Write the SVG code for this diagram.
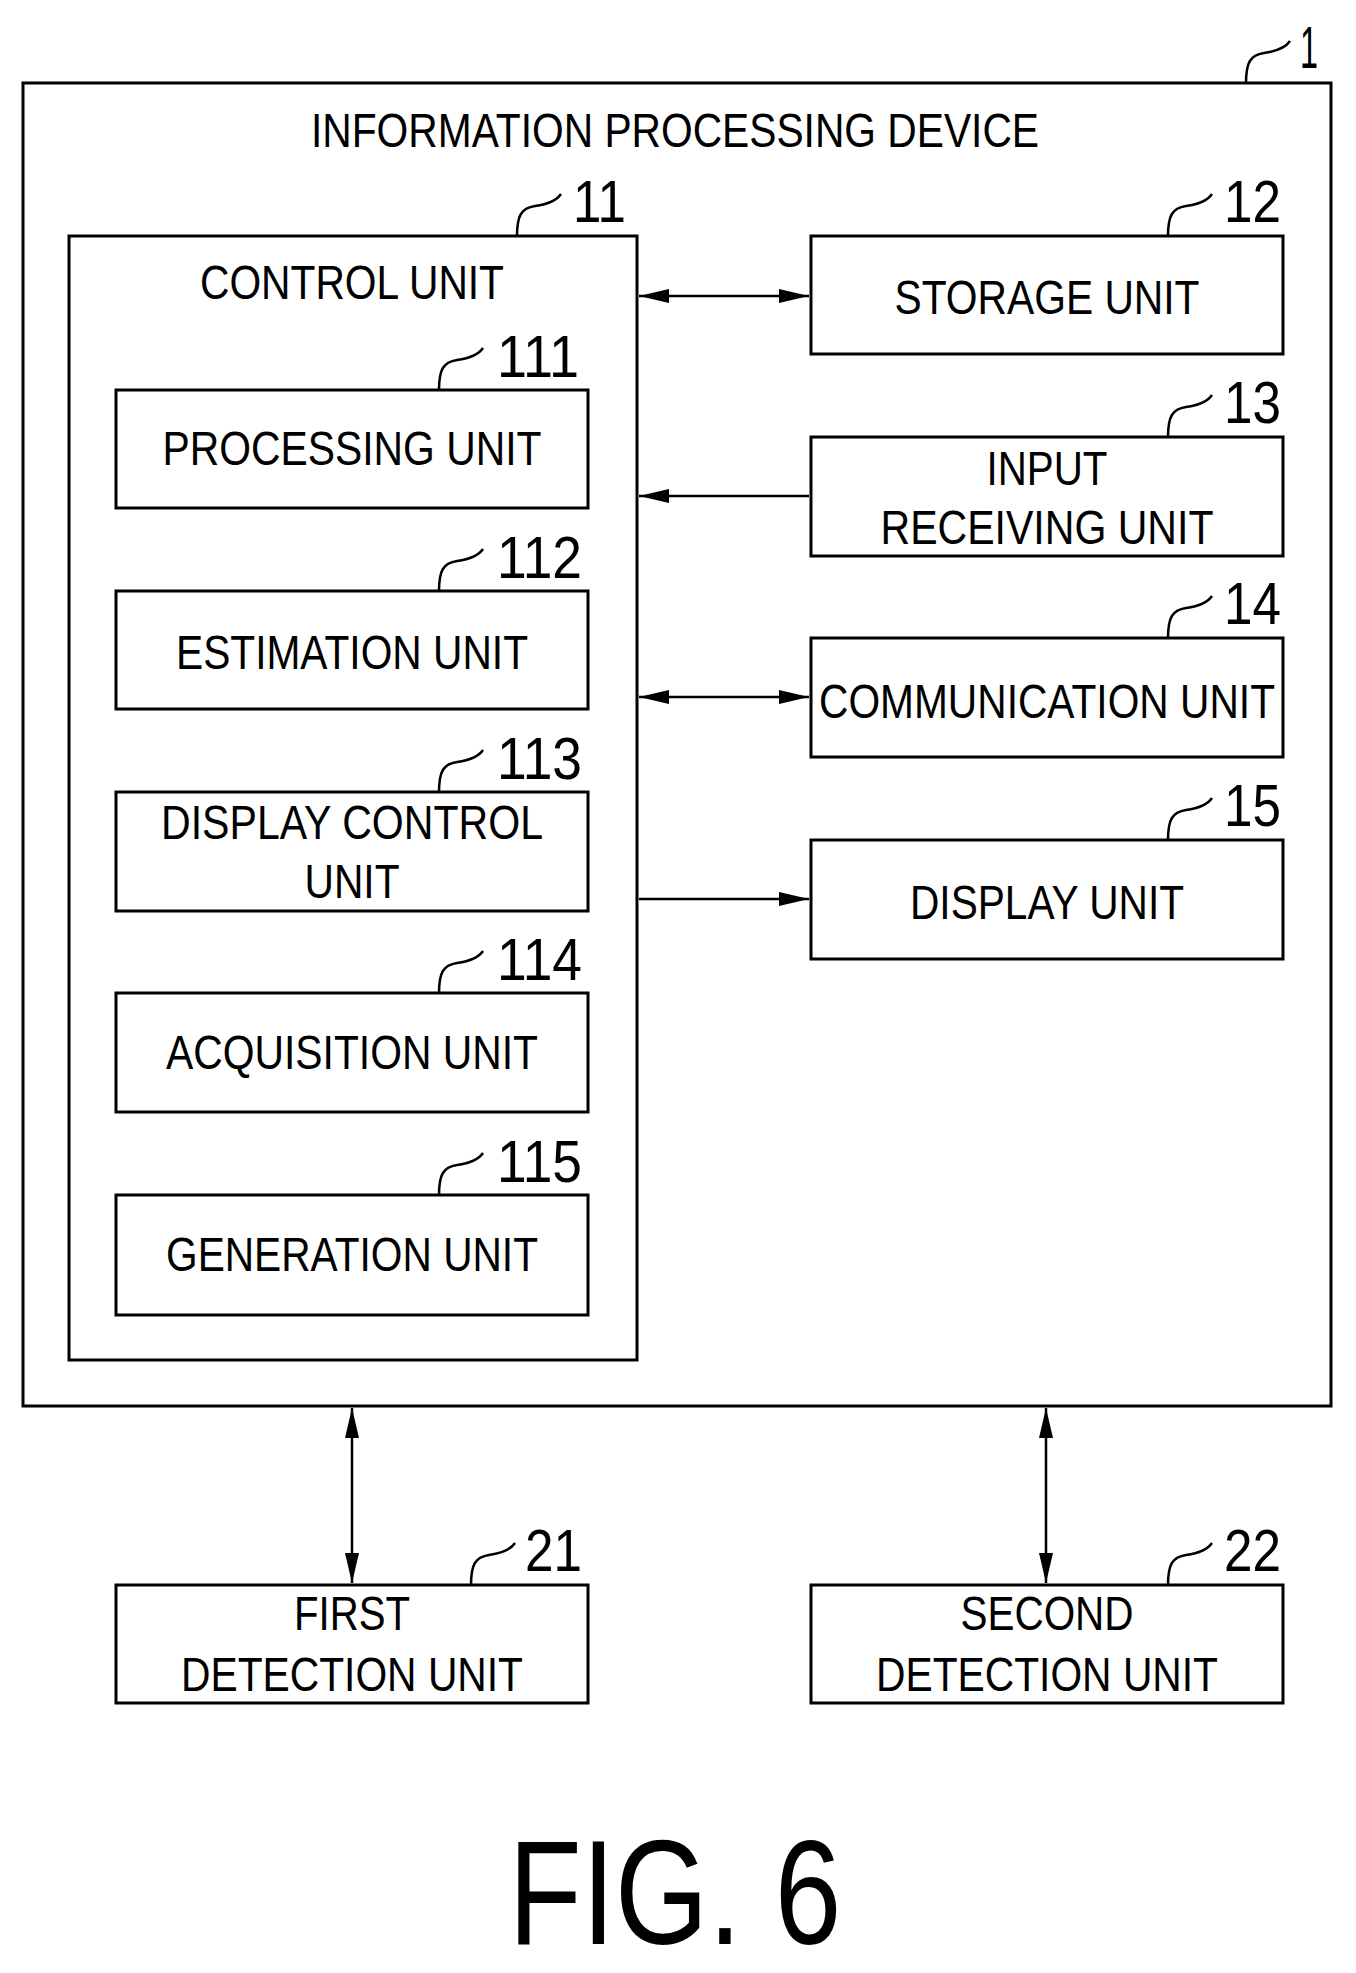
<svg xmlns="http://www.w3.org/2000/svg" width="1356" height="1973" viewBox="0 0 1356 1973">
<style>
.b{fill:#fff;stroke:#000;stroke-width:3}
.t{font-family:"Liberation Sans",Arial,sans-serif;font-size:48px;text-anchor:middle;fill:#000}
.n{font-family:"Liberation Sans",Arial,sans-serif;font-size:60px;fill:#000}
.l{fill:none;stroke:#000;stroke-width:2.5}
.c{fill:none;stroke:#000;stroke-width:2.5}
</style>
<defs>
<marker id="a" viewBox="0 0 30 14" refX="30" refY="7" markerWidth="30" markerHeight="14" markerUnits="userSpaceOnUse" orient="auto-start-reverse"><path d="M0 0L30 7L0 14z" fill="#000"/></marker>
</defs>
<rect width="1356" height="1973" fill="#fff"/>
<g id="n1">
<rect class="b" x="23" y="83" width="1308" height="1323"/>
<text class="t" x="675" y="147" textLength="728" lengthAdjust="spacingAndGlyphs">INFORMATION PROCESSING DEVICE</text>
<path class="l" d="M1246 83c0-20 4-28 18-30s22-6 26-12"/>
<text class="n" x="1300" y="68" textLength="18" lengthAdjust="spacingAndGlyphs">1</text>
</g>
<g id="n11">
<rect class="b" x="69" y="236" width="568" height="1124"/>
<text class="t" x="352" y="299" textLength="304" lengthAdjust="spacingAndGlyphs">CONTROL UNIT</text>
<path class="l" d="M517 236c0-20 4-28 18-30s22-6 26-12"/>
<text class="n" x="573" y="222" textLength="53" lengthAdjust="spacingAndGlyphs">11</text>
</g>
<g id="n111"><rect class="b" x="116" y="390" width="472" height="118"/>
<text class="t" x="352" y="465" textLength="379" lengthAdjust="spacingAndGlyphs">PROCESSING UNIT</text>
<path class="l" d="M439 390c0-20 4-28 18-30s22-6 26-12"/><text class="n" x="497" y="377" textLength="82" lengthAdjust="spacingAndGlyphs">111</text></g>
<g id="n112"><rect class="b" x="116" y="591" width="472" height="118"/>
<text class="t" x="352" y="669" textLength="352" lengthAdjust="spacingAndGlyphs">ESTIMATION UNIT</text>
<path class="l" d="M439 591c0-20 4-28 18-30s22-6 26-12"/><text class="n" x="497" y="578" textLength="85" lengthAdjust="spacingAndGlyphs">112</text></g>
<g id="n113"><rect class="b" x="116" y="792" width="472" height="119"/>
<text class="t" x="352" y="839" textLength="382" lengthAdjust="spacingAndGlyphs">DISPLAY CONTROL</text>
<text class="t" x="352" y="898" textLength="95" lengthAdjust="spacingAndGlyphs">UNIT</text>
<path class="l" d="M439 792c0-20 4-28 18-30s22-6 26-12"/><text class="n" x="497" y="779" textLength="85" lengthAdjust="spacingAndGlyphs">113</text></g>
<g id="n114"><rect class="b" x="116" y="993" width="472" height="119"/>
<text class="t" x="352" y="1069" textLength="372" lengthAdjust="spacingAndGlyphs">ACQUISITION UNIT</text>
<path class="l" d="M439 993c0-20 4-28 18-30s22-6 26-12"/><text class="n" x="497" y="980" textLength="85" lengthAdjust="spacingAndGlyphs">114</text></g>
<g id="n115"><rect class="b" x="116" y="1195" width="472" height="120"/>
<text class="t" x="352" y="1271" textLength="372" lengthAdjust="spacingAndGlyphs">GENERATION UNIT</text>
<path class="l" d="M439 1195c0-20 4-28 18-30s22-6 26-12"/><text class="n" x="497" y="1182" textLength="85" lengthAdjust="spacingAndGlyphs">115</text></g>
<g id="n12"><rect class="b" x="811" y="236" width="472" height="118"/>
<text class="t" x="1047" y="314" textLength="305" lengthAdjust="spacingAndGlyphs">STORAGE UNIT</text>
<path class="l" d="M1168 236c0-20 4-28 18-30s22-6 26-12"/><text class="n" x="1224" y="222" textLength="57" lengthAdjust="spacingAndGlyphs">12</text></g>
<g id="n13"><rect class="b" x="811" y="437" width="472" height="119"/>
<text class="t" x="1047" y="485" textLength="121" lengthAdjust="spacingAndGlyphs">INPUT</text>
<text class="t" x="1047" y="544" textLength="333" lengthAdjust="spacingAndGlyphs">RECEIVING UNIT</text>
<path class="l" d="M1168 437c0-20 4-28 18-30s22-6 26-12"/><text class="n" x="1224" y="423" textLength="57" lengthAdjust="spacingAndGlyphs">13</text></g>
<g id="n14"><rect class="b" x="811" y="638" width="472" height="119"/>
<text class="t" x="1047" y="718" textLength="456" lengthAdjust="spacingAndGlyphs">COMMUNICATION UNIT</text>
<path class="l" d="M1168 638c0-20 4-28 18-30s22-6 26-12"/><text class="n" x="1224" y="624" textLength="57" lengthAdjust="spacingAndGlyphs">14</text></g>
<g id="n15"><rect class="b" x="811" y="840" width="472" height="119"/>
<text class="t" x="1047" y="919" textLength="274" lengthAdjust="spacingAndGlyphs">DISPLAY UNIT</text>
<path class="l" d="M1168 840c0-20 4-28 18-30s22-6 26-12"/><text class="n" x="1224" y="826" textLength="57" lengthAdjust="spacingAndGlyphs">15</text></g>
<g id="n21"><rect class="b" x="116" y="1585" width="472" height="118"/>
<text class="t" x="352" y="1630" textLength="116" lengthAdjust="spacingAndGlyphs">FIRST</text>
<text class="t" x="352" y="1691" textLength="342" lengthAdjust="spacingAndGlyphs">DETECTION UNIT</text>
<path class="l" d="M471 1585c0-20 4-28 18-30s22-6 26-12"/><text class="n" x="525" y="1571" textLength="57" lengthAdjust="spacingAndGlyphs">21</text></g>
<g id="n22"><rect class="b" x="811" y="1585" width="472" height="118"/>
<text class="t" x="1047" y="1630" textLength="173" lengthAdjust="spacingAndGlyphs">SECOND</text>
<text class="t" x="1047" y="1691" textLength="342" lengthAdjust="spacingAndGlyphs">DETECTION UNIT</text>
<path class="l" d="M1168 1585c0-20 4-28 18-30s22-6 26-12"/><text class="n" x="1224" y="1571" textLength="57" lengthAdjust="spacingAndGlyphs">22</text></g>
<g id="connectors">
<line class="c" x1="639" y1="296" x2="809" y2="296" marker-start="url(#a)" marker-end="url(#a)"/>
<line class="c" x1="809" y1="496" x2="639" y2="496" marker-end="url(#a)"/>
<line class="c" x1="639" y1="697" x2="809" y2="697" marker-start="url(#a)" marker-end="url(#a)"/>
<line class="c" x1="639" y1="899" x2="809" y2="899" marker-end="url(#a)"/>
<line class="c" x1="352" y1="1408" x2="352" y2="1583" marker-start="url(#a)" marker-end="url(#a)"/>
<line class="c" x1="1046" y1="1408" x2="1046" y2="1583" marker-start="url(#a)" marker-end="url(#a)"/>
</g>
<text x="675" y="1944" font-family="Liberation Sans,Arial,sans-serif" font-size="148" text-anchor="middle" textLength="333" lengthAdjust="spacingAndGlyphs">FIG. 6</text>
</svg>
